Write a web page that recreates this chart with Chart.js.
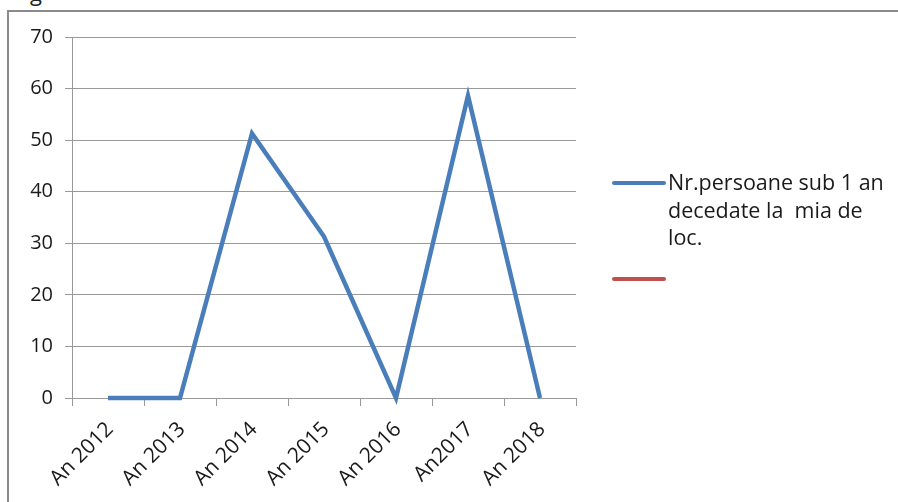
<!DOCTYPE html>
<html>
<head>
<meta charset="utf-8">
<script src="https://cdn.jsdelivr.net/npm/chart.js@4"></script>
<style>
  html, body { margin: 0; padding: 0; background: #fff; }
  #wrap { position: relative; width: 898px; height: 502px; overflow: hidden; }
  #frame { position: absolute; left: 7px; top: 10px; right: -5px; bottom: -5px;
           border-top: 2px solid #8a8a8a; border-left: 2px solid #8a8a8a; }
  #cut { position: absolute; left: 30px; top: -23px; font: 22px "Open Sans"; color: #222; }
  canvas { position: absolute; left: 0; top: 0; }
</style>
</head>
<body>
<div id="wrap">
  <span id="cut">g</span>
  <div id="frame"></div>
  <canvas id="chart" width="898" height="502"></canvas>
</div>
<script>
// DATA
var years = ['An 2012', 'An 2013', 'An 2014', 'An 2015', 'An 2016', 'An2017', 'An 2018']
var deaths = [0, 0, 51.3, 31.3, 0, 58.6, 0]
var empty_series = [null, null, null, null, null, null, null]
var y_min = 0
var y_max = 70
var y_step = 10
var legend_lines = ['Nr.persoane sub 1 an', 'decedate la  mia de', 'loc.']

var font_family = '"Open Sans", sans-serif'

//legend drawn by hand, chart.js can't wrap a label on several lines
var side_legend = {
  id: 'sideLegend',
  afterDraw: function (chart) {
    var ctx = chart.ctx
    var sets = chart.data.datasets
    ctx.save()
    ctx.lineWidth = 4
    ctx.lineCap = 'round'
    ctx.strokeStyle = sets[0].borderColor
    ctx.beginPath(); ctx.moveTo(614, 183); ctx.lineTo(664, 183); ctx.stroke()
    ctx.strokeStyle = sets[1].borderColor
    ctx.beginPath(); ctx.moveTo(614, 279); ctx.lineTo(664, 279); ctx.stroke()
    ctx.fillStyle = '#1a1a1a'
    ctx.font = '21.5px ' + font_family
    ctx.textBaseline = 'alphabetic'
    for (let i in legend_lines) {
      ctx.fillText(legend_lines[i], 668, 190 + i * 27.5)
    }
    ctx.restore()
  }
}

var chart_data = {
  labels: years,
  datasets: [{
    label: legend_lines.join(' '),
    data: deaths,
    borderColor: '#4a7ebb',
    borderWidth: 4.5,
    pointRadius: 0,
    tension: 0,
    clip: false
  }, {
    label: '',
    data: empty_series,
    borderColor: '#c0504d',
    borderWidth: 4.5,
    pointRadius: 0
  }]
}

var chart_config = {
  type: 'line',
  data: chart_data,
  options: {
    responsive: false,
    animation: false,
    layout: { padding: { left: 0, top: 37, right: 322, bottom: 0 } },
    plugins: { legend: { display: false }, tooltip: { enabled: false } },
    scales: {
      x: {
        offset: true,
        grid: { offset: true, drawOnChartArea: false, color: '#999', tickLength: 8 },
        border: { display: true, color: '#999' },
        ticks: { maxRotation: 45, minRotation: 45, autoSkip: false, padding: 11, labelOffset: 2,
                 color: '#1a1a1a', font: { family: font_family, size: 21 } },
        afterFit: function (scale) { scale.height = 104 }
      },
      y: {
        min: y_min,
        max: y_max,
        grid: { color: '#9a9a9a', tickLength: 7 },
        border: { display: true, color: '#9a9a9a' },
        ticks: { stepSize: y_step, padding: 12, color: '#1a1a1a',
                 font: { family: font_family, size: 20 } },
        afterFit: function (scale) { scale.width = 72 }
      }
    }
  },
  plugins: [side_legend]
}

var chart = new Chart(document.getElementById('chart'), chart_config)
</script>
</body>
</html>
